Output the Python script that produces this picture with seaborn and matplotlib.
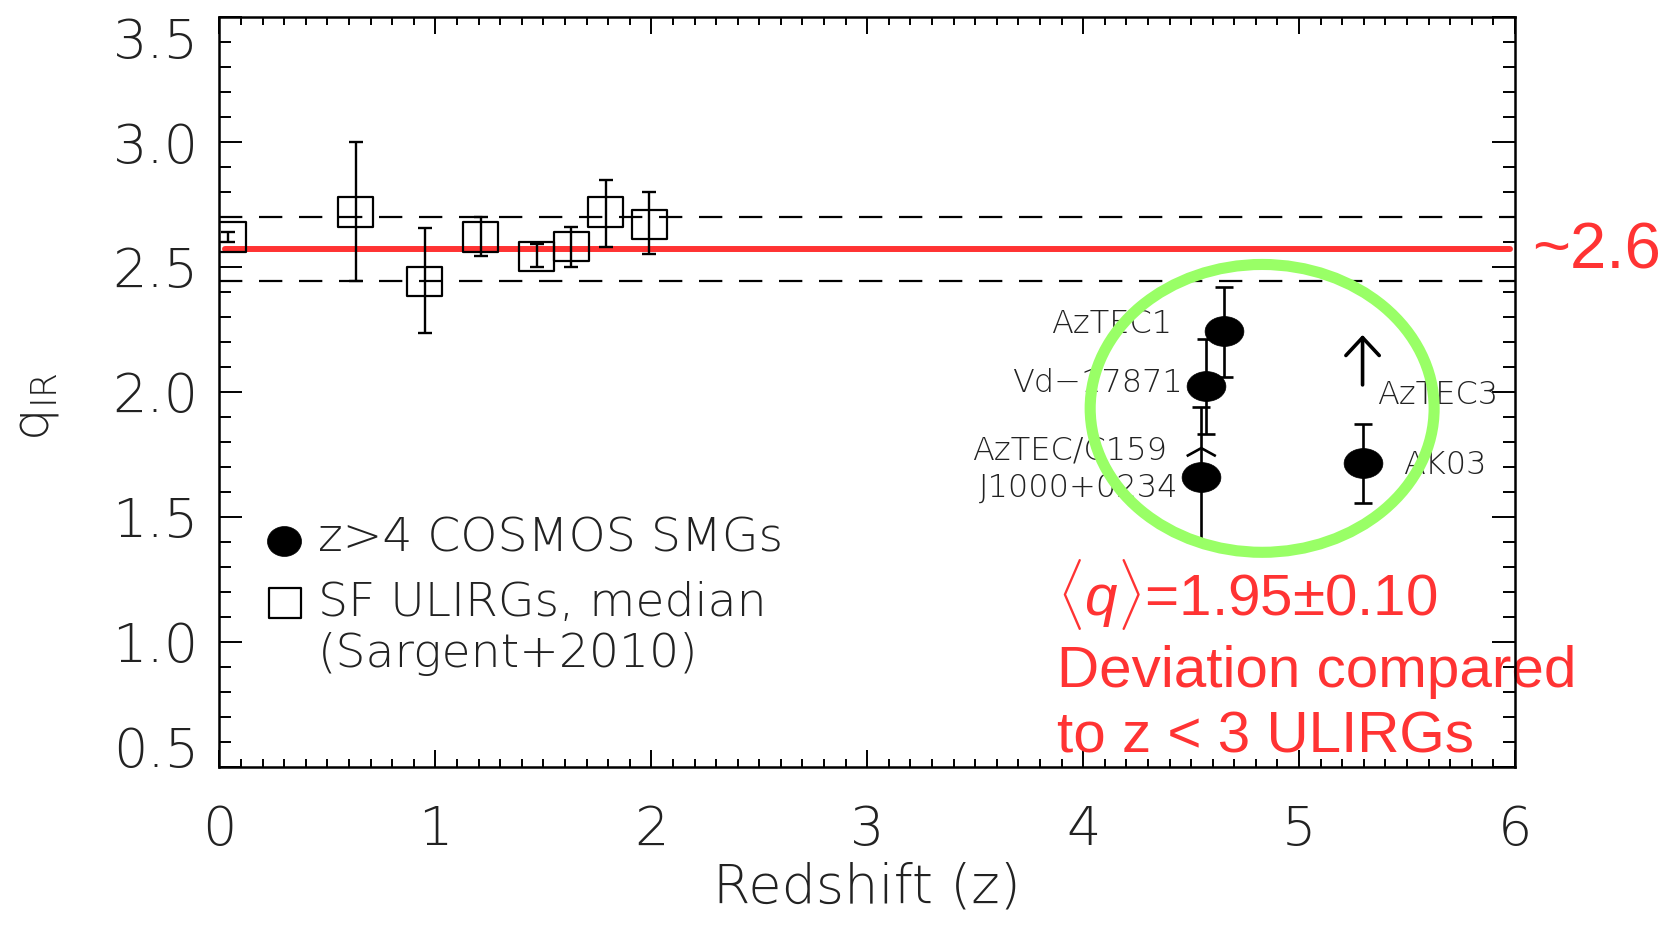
import numpy as np
import pandas as pd
import matplotlib
matplotlib.use("Agg")
import matplotlib.pyplot as plt
import seaborn as sns
from matplotlib.path import Path
from matplotlib.patches import Ellipse
from matplotlib.ticker import MultipleLocator, FormatStrFormatter

# --- SF ULIRG medians (Sargent+2010) ---
sf_z = [0.04, 0.63, 0.95, 1.21, 1.47, 1.63, 1.79, 1.99]
sf_q = [2.62, 2.72, 2.44, 2.62, 2.54, 2.58, 2.72, 2.67]
sf_q_low = [2.60, 2.445, 2.235, 2.545, 2.50, 2.50, 2.58, 2.55]
sf_q_high = [2.64, 3.00, 2.655, 2.70, 2.59, 2.66, 2.85, 2.80]

# --- z>4 COSMOS SMGs with measured q_IR ---
smg_names = ["AzTEC1", "Vd\u221217871", "J1000+0234", "AK03"]
smg_z = [4.65, 4.57, 4.547, 5.294]
smg_q = [2.245, 2.025, 1.661, 1.716]
smg_q_low = [2.06, 1.83, 1.40, 1.556]
smg_q_high = [2.42, 2.21, 1.94, 1.872]

# --- SMGs with lower limits on q_IR ---
lim_names = ["AzTEC/C159", "AzTEC3"]
lim_z = [4.547, 5.294]
lim_q = [1.775, 2.028]

# local relation and its scatter
q_local = 2.57
q_band = [2.443, 2.70]

# tick positions
x_ticks = [0, 1, 2, 3, 4, 5, 6]
y_ticks = [0.5, 1.0, 1.5, 2.0, 2.5, 3.0, 3.5]

ink = "#222222"
red = "#ff3333"
green = "#99ff66"

sns.set_theme(style="white")
plt.rcParams["font.family"] = ["DejaVu Sans"]
plt.rcParams["font.weight"] = "light"
plt.rcParams["mathtext.fontset"] = "custom"
plt.rcParams["mathtext.rm"] = "DejaVu Sans"
plt.rcParams["mathtext.it"] = "Liberation Sans:italic"

fig = plt.figure(figsize=(16.79, 9.25), dpi=100)
ax = fig.add_axes([0.13073, 0.17114, 0.77159, 0.81038])
ax.set_xlim(0, 6)
ax.set_ylim(0.5, 3.5)

# reference lines
for qb in q_band:
    ax.axhline(qb, color="black", lw=1.6, dashes=(10.5, 7.5), zorder=1)
ax.axhline(q_local, color=red, lw=4.3, xmin=0.004, xmax=0.996, zorder=1.5)

# error bars
sf_q_arr = np.array(sf_q)
ax.errorbar(sf_z, sf_q, yerr=[sf_q_arr - np.array(sf_q_low), np.array(sf_q_high) - sf_q_arr],
            fmt="none", ecolor="black", elinewidth=1.7, capsize=5, capthick=1.7, zorder=2)
smg_q_arr = np.array(smg_q)
ax.errorbar(smg_z, smg_q, yerr=[smg_q_arr - np.array(smg_q_low), np.array(smg_q_high) - smg_q_arr],
            fmt="none", ecolor="black", elinewidth=1.9, capsize=6.5, capthick=1.9, zorder=2)

# marker shapes
circ = Path.unit_circle()
oval = Path(circ.vertices * np.array([1.0, 0.77]), circ.codes)
oval_leg = Path(circ.vertices * np.array([1.0, 0.88]), circ.codes)


def box(ratio):
    v = [(-1, -ratio), (1, -ratio), (1, ratio), (-1, ratio), (-1, -ratio)]
    return Path(v, [Path.MOVETO, Path.LINETO, Path.LINETO, Path.LINETO, Path.CLOSEPOLY])


caret = Path([(-1, -0.55), (0, 0), (1, -0.55)], [Path.MOVETO, Path.LINETO, Path.LINETO])

sf_df = pd.DataFrame({"z": sf_z, "q": sf_q})
smg_df = pd.DataFrame({"z": smg_z, "q": smg_q, "name": smg_names})

sns.scatterplot(data=sf_df, x="z", y="q", marker=box(0.83), s=635, color="black",
                facecolor="none", edgecolor="black", linewidth=1.6, ax=ax, zorder=3)
sns.scatterplot(data=smg_df, x="z", y="q", marker=oval, s=780, color="black",
                edgecolor="black", linewidth=0.5, ax=ax, zorder=4)

# lower limits: open arrowhead for AzTEC/C159, arrow for AzTEC3
sns.scatterplot(x=[lim_z[0]], y=[lim_q[0]], marker=caret, s=440, color="black",
                facecolor="none", edgecolor="black", linewidth=1.9, ax=ax, zorder=4)
arrow_len = 0.2
ax.annotate("", xy=(lim_z[1], lim_q[1] + arrow_len), xytext=(lim_z[1], lim_q[1]),
            arrowprops=dict(arrowstyle="->,head_length=0.43,head_width=0.4", lw=2.6,
                            color="black", shrinkA=0, shrinkB=0, mutation_scale=30),
            zorder=4)

# source labels
lab_kw = dict(textcoords="offset points", fontsize=23, color=ink, fontweight="light",
              va="center", zorder=5)
smg_offsets = [(-37.3, 4.5, "right"), (-17.1, 1.8, "right"), (-16.6, -8.3, "right"), (28.8, -1.4, "left")]
for name, z, q, (dx, dy, ha) in zip(smg_names, smg_z, smg_q, smg_offsets):
    ax.annotate(name, xy=(z, q), xytext=(dx, dy), ha=ha, **lab_kw)
lim_offsets = [(-24.4, -1.8, "right"), (10.1, -7.2, "left")]
for name, z, q, (dx, dy, ha) in zip(lim_names, lim_z, lim_q, lim_offsets):
    ax.annotate(name, xy=(z, q), xytext=(dx, dy), ha=ha, **lab_kw)

# highlight around the high-z SMGs
ax.add_patch(Ellipse((4.829, 1.934), width=1.593, height=1.152, fill=False,
                     edgecolor=green, lw=8, zorder=6))

# in-panel key
sns.scatterplot(x=[0.298], y=[1.405], marker=oval_leg, s=600, color="black",
                edgecolor="black", linewidth=0.5, ax=ax, zorder=4)
sns.scatterplot(x=[0.302], y=[1.156], marker=box(0.95), s=530, color="black",
                facecolor="none", edgecolor="black", linewidth=1.6, ax=ax, zorder=4)
key_kw = dict(fontsize=34, color=ink, fontweight="light", ha="left", va="baseline")
ax.text(0.456, 1.36, "z>4 COSMOS SMGs", **key_kw)
ax.text(0.456, 1.105, "SF ULIRGs, median", **key_kw)
ax.text(0.456, 0.90, "(Sargent+2010)", **key_kw)

# red annotations
red_family = ["Liberation Sans", "DejaVu Sans"]
red_kw = dict(color=red, family=red_family, fontweight="normal",
              ha="left", va="baseline", zorder=2)
ax.text(6.08, 2.56, "~2.6", fontsize=47, color=red, family=red_family,
        fontweight="normal", ha="left", va="center")
ax.text(3.88, 1.1035, r"$\langle\mathit{q}\rangle$=1.95" + "\u00b1" + "0.10", fontsize=42, **red_kw)
ax.text(3.88, 0.817, "Deviation compared", fontsize=42, **red_kw)
ax.text(3.88, 0.556, "to z < 3 ULIRGs", fontsize=42, **red_kw)

# axes styling
ax.set_xticks(x_ticks)
ax.set_yticks(y_ticks)
ax.xaxis.set_minor_locator(MultipleLocator(0.1))
ax.yaxis.set_minor_locator(MultipleLocator(0.1))
ax.xaxis.set_major_formatter(FormatStrFormatter("%d"))
ax.yaxis.set_major_formatter(FormatStrFormatter("%.1f"))
ax.tick_params(which="both", direction="in", top=True, right=True, bottom=True, left=True,
               width=1.4, color="black")
ax.tick_params(axis="x", which="major", length=12, pad=27, labelsize=39, labelcolor=ink)
ax.tick_params(axis="x", which="minor", length=6)
ax.tick_params(axis="y", which="major", length=16.5, pad=15, labelsize=39, labelcolor=ink)
ax.tick_params(axis="y", which="minor", length=8.5)
for sp in ax.spines.values():
    sp.set_color("black")
    sp.set_linewidth(1.8)
    sp.set_visible(True)

ax.set_xlabel("Redshift (z)", fontsize=39, color=ink, fontweight="light")
ax.xaxis.set_label_coords(0.5, -0.127)
ax.set_ylabel(r"q$_{\mathrm{IR}}$", fontsize=37, color=ink, fontweight="light")
ax.yaxis.set_label_coords(-0.122, 0.48)

# keep the end labels of the q axis inside the frame height
ylabs = ax.yaxis.get_majorticklabels()
ylabs[0].set_va("baseline")
ylabs[-1].set_va("top")

fig.savefig("out.png", dpi=100, facecolor="white")
